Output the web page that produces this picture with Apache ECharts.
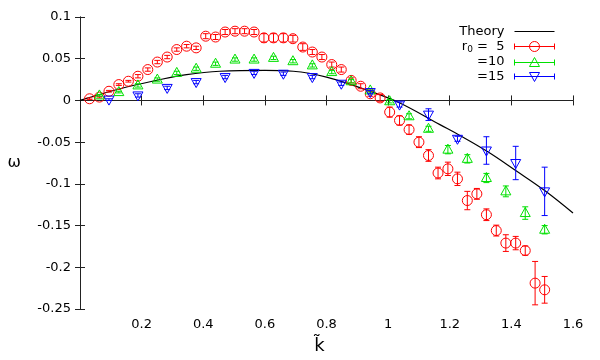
<!DOCTYPE html>
<html>
<head>
<meta charset="utf-8">
<script src="https://cdn.jsdelivr.net/npm/echarts@6/dist/echarts.min.js"></script>
<style>
  html, body { margin: 0; padding: 0; background: #fff; }
  #main { width: 600px; height: 360px; }
</style>
</head>
<body>
<div id="main"></div>
<script>
// 数据
var kTheory = [0, 0.13, 0.248, 0.346, 0.454, 0.6, 0.692, 0.8, 0.941, 1.038, 1.168, 1.233, 1.321, 1.414, 1.508, 1.6];
var wTheory = [0, 0.014, 0.024, 0.031, 0.035, 0.036, 0.035, 0.028, 0.011, -0.003, -0.029, -0.042, -0.061, -0.084, -0.108, -0.135];

var kRed = [0.031, 0.063, 0.094, 0.126, 0.157, 0.188, 0.220, 0.251, 0.283, 0.314, 0.346, 0.377, 0.408, 0.440, 0.471, 0.503,
    0.534, 0.565, 0.597, 0.628, 0.660, 0.691, 0.723, 0.754, 0.785, 0.817, 0.848, 0.880, 0.911, 0.942, 0.974, 1.005,
    1.037, 1.068, 1.100, 1.131, 1.162, 1.194, 1.225, 1.257, 1.288, 1.319, 1.351, 1.382, 1.414, 1.445, 1.477, 1.508];
var wRed = [0.002, 0.004, 0.011, 0.019, 0.023, 0.029, 0.037, 0.046, 0.052, 0.061, 0.065, 0.063, 0.077, 0.076, 0.082, 0.083,
    0.083, 0.082, 0.075, 0.075, 0.075, 0.074, 0.064, 0.058, 0.052, 0.043, 0.037, 0.024, 0.017, 0.008, 0.003, -0.014,
    -0.024, -0.035, -0.050, -0.066, -0.087, -0.082, -0.094, -0.120, -0.112, -0.137, -0.156, -0.171, -0.171, -0.180, -0.219, -0.227];
var eRed = [0.001, 0.001, 0.001, 0.001, 0.001, 0.002, 0.002, 0.002, 0.002, 0.002, 0.002, 0.002, 0.003, 0.003, 0.003, 0.003,
    0.003, 0.003, 0.005, 0.005, 0.005, 0.004, 0.004, 0.003, 0.003, 0.003, 0.003, 0.003, 0.003, 0.003, 0.004, 0.006,
    0.0055, 0.0055, 0.0065, 0.007, 0.007, 0.008, 0.008, 0.011, 0.0065, 0.007, 0.0065, 0.010, 0.008, 0.0055, 0.026, 0.016];

var kGreen = [0.063, 0.126, 0.188, 0.251, 0.314, 0.377, 0.440, 0.503, 0.565, 0.628, 0.691, 0.754,
    0.817, 0.880, 0.942, 1.005, 1.068, 1.131, 1.194, 1.257, 1.319, 1.382, 1.445, 1.508];
var wGreen = [0.006, 0.010, 0.018, 0.025, 0.033, 0.038, 0.044, 0.049, 0.049, 0.051, 0.047, 0.042,
    0.034, 0.023, 0.012, -0.001, -0.019, -0.034, -0.059, -0.070, -0.093, -0.109, -0.135, -0.155];
var eGreen = [0.001, 0.001, 0.002, 0.002, 0.002, 0.002, 0.002, 0.002, 0.002, 0.002, 0.002, 0.002,
    0.002, 0.002, 0.002, 0.002, 0.003, 0.003, 0.005, 0.005, 0.0055, 0.0065, 0.0075, 0.005];

var kBlue = [0.094, 0.188, 0.283, 0.377, 0.471, 0.565, 0.660, 0.754, 0.848, 0.942, 1.037, 1.131, 1.225, 1.319, 1.414, 1.508];
var wBlue = [0.001, 0.006, 0.015, 0.022, 0.028, 0.033, 0.032, 0.028, 0.020, 0.010, -0.005, -0.017, -0.046, -0.060, -0.075, -0.109];
var eBlue = [0.001, 0.002, 0.002, 0.002, 0.002, 0.002, 0.002, 0.002, 0.002, 0.002, 0.003, 0.007, 0.003, 0.0165, 0.020, 0.029];

var RED = '#ff0000', GREEN = '#00e000', BLUE = '#0000ff';
var FONT = 'DejaVu Sans';

function zip(a, b, c) {
    return a.map(function (v, i) { return c ? [v, b[i], c[i]] : [v, b[i]]; });
}

// 误差棒 + 空心点
function errItem(shape) {
    return function (params, api) {
        var k = api.value(0), w = api.value(1), e = api.value(2);
        var c = api.coord([k, w]);
        var lo = api.coord([k, w - e]);
        var hi = api.coord([k, w + e]);
        var color = api.visual('color');
        var st = { stroke: color, lineWidth: 1, fill: null };
        var x = c[0], y = c[1];
        var marker;
        if (shape === 'circle') {
            marker = { type: 'circle', shape: { cx: x, cy: y, r: 5 }, style: st };
        } else if (shape === 'up') {
            marker = { type: 'polygon', shape: { points: [[x, y - 5.5], [x - 5, y + 3.5], [x + 5, y + 3.5]] }, style: st };
        } else {
            marker = { type: 'polygon', shape: { points: [[x, y + 5.5], [x - 5, y - 3.5], [x + 5, y - 3.5]] }, style: st };
        }
        return {
            type: 'group',
            children: [
                { type: 'line', shape: { x1: x, y1: lo[1], x2: x, y2: hi[1] }, style: st },
                { type: 'line', shape: { x1: x - 3, y1: lo[1], x2: x + 3, y2: lo[1] }, style: st },
                { type: 'line', shape: { x1: x - 3, y1: hi[1], x2: x + 3, y2: hi[1] }, style: st },
                marker
            ]
        };
    };
}

var iconLine = 'path://M0,0 M40,10 M0,5 L40,5';
var iconCircle = 'path://M0,2 L0,8 M0,5 L40,5 M40,2 L40,8 M25,5 A5,5 0 1 1 15,5 A5,5 0 1 1 25,5';
var iconUp = 'path://M0,2 L0,8 M0,5 L40,5 M40,2 L40,8 M15,9 L25,9 L20,0 Z';
var iconDown = 'path://M0,2 L0,8 M0,5 L40,5 M40,2 L40,8 M15,1 L25,1 L20,10 Z';

function legendAt(top, name, icon, color) {
    return {
        data: [{
            name: name,
            icon: icon,
            itemStyle: { color: 'none', borderColor: color, borderWidth: 1 }
        }],
        right: 43,
        top: top,
        align: 'right',
        itemWidth: 40,
        itemHeight: 10,
        padding: 0,
        selectedMode: false,
        formatter: function (n) {
            if (n === 'r0 = 5') return '{n|r}{s|0}{n| =  5}';
            return '{n|' + n + '}';
        },
        textStyle: {
            padding: [0, 5, 0, 0],
            rich: {
                n: { fontFamily: FONT, fontSize: 13, color: '#000' },
                s: { fontFamily: FONT, fontSize: 9, color: '#000', padding: [7, 0, 0, 0] }
            }
        }
    };
}

var chart = echarts.init(document.getElementById('main'));

var axisLine = { show: true, lineStyle: { color: '#222', width: 1 } };
var tick = { show: true, inside: true, length: 5, lineStyle: { color: '#222' } };
var lbl = { fontFamily: FONT, fontSize: 13, color: '#000' };

chart.setOption({
    animation: false,
    backgroundColor: '#fff',
    grid: { left: 80, right: 27, top: 17, bottom: 51 },
    legend: [
        legendAt(24, 'Theory', iconLine, '#000'),
        legendAt(39, 'r0 = 5', iconCircle, RED),
        legendAt(55, '=10', iconUp, GREEN),
        legendAt(70, '=15', iconDown, BLUE)
    ],
    xAxis: [
        {
            type: 'value', min: 0, max: 1.6, interval: 0.2, position: 'bottom',
            axisLine: axisLine, axisTick: tick, splitLine: { show: false },
            axisLabel: Object.assign({ margin: 9, showMinLabel: false }, lbl),
            name: 'k\u0303', nameLocation: 'middle', nameGap: 28,
            nameTextStyle: { fontFamily: FONT, fontSize: 18, color: '#000', padding: [0, 14, 0, 0] }
        },
        {
            type: 'value', min: 0, max: 1.6, interval: 0.2, position: 'top',
            axisLine: axisLine, axisTick: tick, splitLine: { show: false },
            axisLabel: { show: false }
        }
    ],
    yAxis: [
        {
            type: 'value', min: -0.25, max: 0.1, interval: 0.05, position: 'left',
            axisLine: axisLine, axisTick: tick, splitLine: { show: false },
            axisLabel: Object.assign({ margin: 9 }, lbl),
            name: 'ω', nameLocation: 'middle', nameGap: 59, nameRotate: 0,
            nameMoveOverlap: false,
            nameTextStyle: { fontFamily: FONT, fontSize: 16, color: '#000' }
        },
        {
            type: 'value', min: -0.25, max: 0.1, interval: 0.05, position: 'right',
            axisLine: axisLine, axisTick: tick, splitLine: { show: false },
            axisLabel: { show: false }
        }
    ],
    series: [
        {
            name: 'Theory',
            type: 'line',
            data: zip(kTheory, wTheory),
            smooth: 0.4,
            symbol: 'none',
            lineStyle: { color: '#000', width: 1.2 },
            itemStyle: { color: '#000' },
            z: 2
        },
        {
            name: 'r0 = 5',
            type: 'custom',
            renderItem: errItem('circle'),
            data: zip(kRed, wRed, eRed),
            encode: { x: 0, y: 1 },
            itemStyle: { color: RED },
            z: 3
        },
        {
            name: '=10',
            type: 'custom',
            renderItem: errItem('up'),
            data: zip(kGreen, wGreen, eGreen),
            encode: { x: 0, y: 1 },
            itemStyle: { color: GREEN },
            z: 4
        },
        {
            name: '=15',
            type: 'custom',
            renderItem: errItem('down'),
            data: zip(kBlue, wBlue, eBlue),
            encode: { x: 0, y: 1 },
            itemStyle: { color: BLUE },
            z: 5
        }
    ]
});
</script>
</body>
</html>
